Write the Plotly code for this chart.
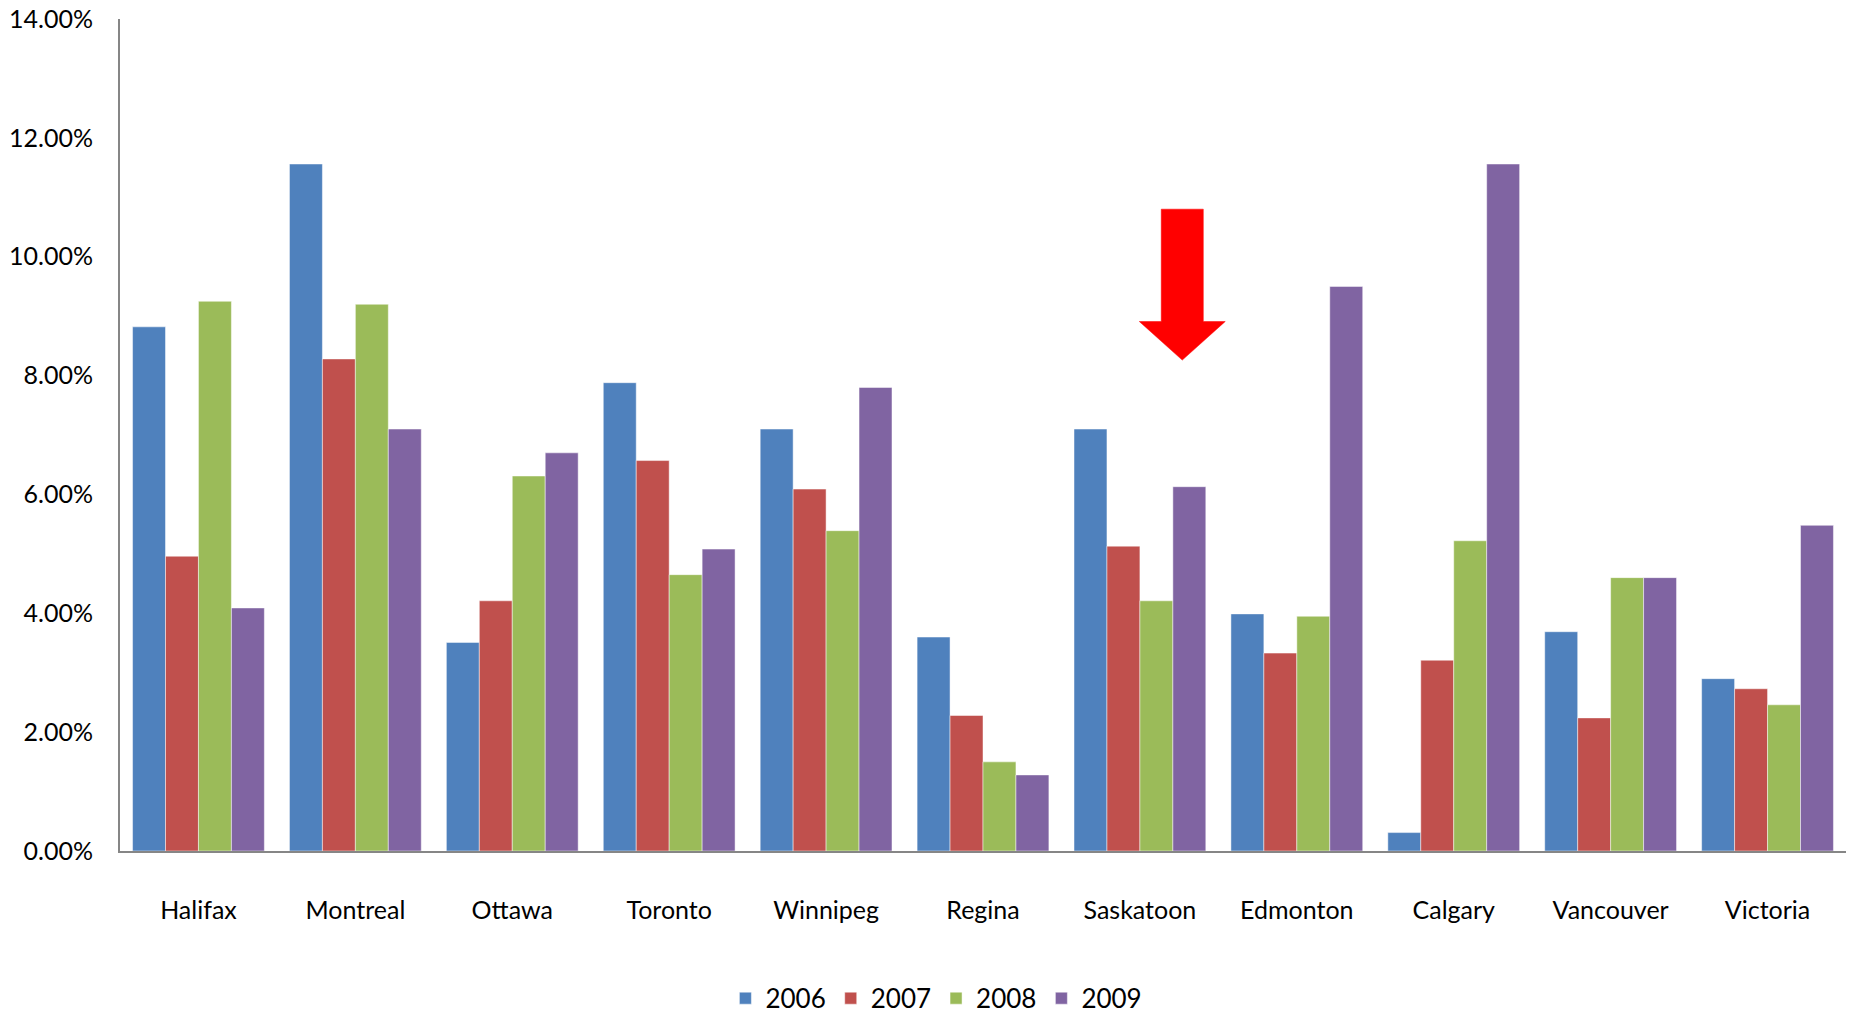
import plotly.graph_objects as go

cities = ["Halifax", "Montreal", "Ottawa", "Toronto", "Winnipeg", "Regina",
          "Saskatoon", "Edmonton", "Calgary", "Vancouver", "Victoria"]
years = ["2006", "2007", "2008", "2009"]
v2006 = [0.0882, 0.1156, 0.0351, 0.0788, 0.0710, 0.0360, 0.0710, 0.0399, 0.0031, 0.0369, 0.0290]
v2007 = [0.0496, 0.0828, 0.0421, 0.0657, 0.0609, 0.0228, 0.0513, 0.0333, 0.0321, 0.0224, 0.0273]
v2008 = [0.0925, 0.0920, 0.0631, 0.0465, 0.0539, 0.0150, 0.0421, 0.0395, 0.0522, 0.0460, 0.0246]
v2009 = [0.0409, 0.0710, 0.0670, 0.0508, 0.0780, 0.0128, 0.0613, 0.0950, 0.1156, 0.0460, 0.0548]
series = [v2006, v2007, v2008, v2009]
colors = ["#4F81BD", "#C0504D", "#9BBB59", "#8064A2"]
y_ticks = [0, 0.02, 0.04, 0.06, 0.08, 0.10, 0.12, 0.14]

FONT = "Lato, Carlito, Calibri, sans-serif"

fig = go.Figure()
for name, vals, col in zip(years, series, colors):
    fig.add_trace(go.Bar(
        x=cities, y=vals, name=name,
        marker=dict(color=col, line=dict(color="rgba(255,255,255,0.6)", width=0.8)),
    ))

# red arrow pointing down above Saskatoon (category index 6)
cx = 6.27
sh, hh = 0.134, 0.274
ytop, ybase, ytip = 0.108, 0.0891, 0.0826
path = (f"M {cx-sh},{ytop} L {cx+sh},{ytop} L {cx+sh},{ybase} L {cx+hh},{ybase} "
        f"L {cx},{ytip} L {cx-hh},{ybase} L {cx-sh},{ybase} Z")
fig.add_shape(type="path", path=path, xref="x", yref="y",
              fillcolor="#FF0000", line=dict(color="#FF0000", width=0.5))

fig.update_layout(
    width=1856, height=1014,
    margin=dict(l=120, r=10, t=19, b=163, autoexpand=False),
    paper_bgcolor="white", plot_bgcolor="white",
    barmode="group", bargap=0.16, bargroupgap=0,
    font=dict(family=FONT, size=25, color="#000000"),
    showlegend=True,
    legend=dict(orientation="h", x=0.473, xanchor="center", y=-0.177, yanchor="middle",
                font=dict(family=FONT, size=26, color="#000000"),
                itemwidth=30, traceorder="normal"),
)
fig.update_xaxes(
    showline=True, linecolor="#868686", linewidth=2,
    showgrid=False, ticks="", ticklabelstandoff=36,
    tickfont=dict(family=FONT, size=25, color="#000000"),
)
fig.update_yaxes(
    range=[0, 0.14], tickvals=y_ticks, tickformat=".2%",
    showline=True, linecolor="#868686", linewidth=2,
    showgrid=False, zeroline=False, ticks="", ticklabelstandoff=20,
    tickfont=dict(family=FONT, size=25, color="#000000"),
)

fig.write_html("out.html")
